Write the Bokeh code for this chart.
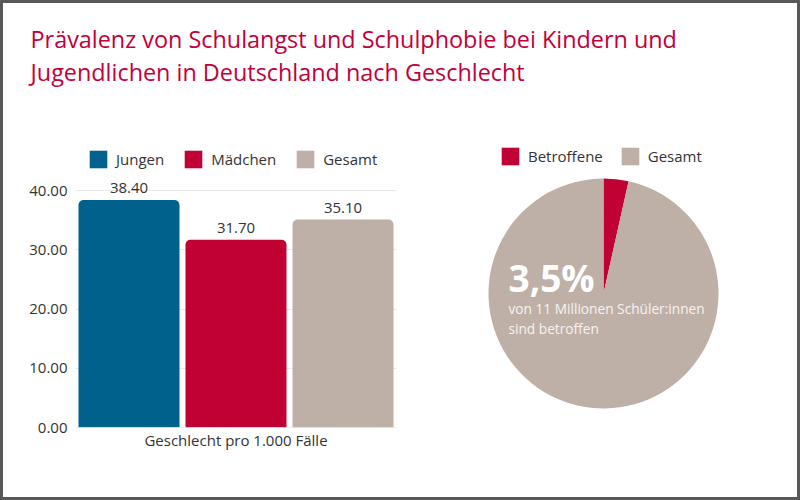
import math
from bokeh.plotting import figure
from bokeh.models import (ColumnDataSource, Range1d, FactorRange, Label, LabelSet,
                          FixedTicker, NumeralTickFormatter, Title, Span)
from bokeh.layouts import column, row
from bokeh.embed import file_html
from bokeh.resources import INLINE
from bokeh.core.properties import value

# ---------------- data ----------------
title_lines = ["Prävalenz von Schulangst und Schulphobie bei Kindern und",
               "Jugendlichen in Deutschland nach Geschlecht"]
categories = ["Jungen", "Mädchen", "Gesamt"]
values = [38.40, 31.70, 35.10]
bar_colors = ["#00628C", "#C10034", "#BEB0A7"]
y_ticks = [0, 10, 20, 30, 40]
x_axis_label = "Geschlecht pro 1.000 Fälle"

pie_labels = ["Betroffene", "Gesamt"]
pie_values = [3.5, 96.5]
pie_colors = ["#C10034", "#BEB0A7"]
pie_headline = "3,5%"
pie_text = ["von 11 Millionen Schüler:innen", "sind betroffen"]

FONT = "Open Sans"
TITLE_COLOR = "#C3003A"
TEXT_COLOR = "#333333"


def style_legend(lg, loc, spacing, standoff):
    lg.orientation = "horizontal"
    lg.location = loc
    lg.padding = 0
    lg.margin = 0
    lg.spacing = spacing
    lg.border_line_color = None
    lg.background_fill_alpha = 0
    lg.glyph_width = 22
    lg.glyph_height = 22
    lg.label_height = 22
    lg.label_standoff = standoff
    lg.label_text_font = FONT
    lg.label_text_font_size = "15px"
    lg.label_text_color = TEXT_COLOR


# ---------------- title ----------------
tf = figure(width=794, height=107, x_range=Range1d(0, 1), y_range=Range1d(0, 1),
            x_axis_type=None, y_axis_type=None, toolbar_location=None,
            output_backend="svg", min_border=0)
tf.frame_align = False
tf.outline_line_color = None
tf.grid.visible = False
for t, ys in zip(title_lines, [72, 39]):
    tf.add_layout(Label(x=27, y=ys, x_units="screen", y_units="screen", text=t,
                        text_font=FONT, text_font_size="23.4px",
                        text_color=TITLE_COLOR, text_baseline="middle"))

# ---------------- bar chart ----------------
src = ColumnDataSource(dict(cat=categories, val=values, color=bar_colors,
                            lbl=[f"{v:.2f}" for v in values]))
PX_PER_UNIT = (427 - 190) / 40.0
bf = figure(width=437, height=387, x_range=FactorRange(*categories, range_padding=0),
            y_range=Range1d(0, (427 - 140) / PX_PER_UNIT), x_axis_type=None,
            toolbar_location=None, output_backend="svg",
            min_border_left=72, min_border_right=44, min_border_top=30,
            min_border_bottom=70)
bf.frame_align = False
bf.outline_line_color = None
bf.xgrid.visible = False
bf.ygrid.ticker = FixedTicker(ticks=y_ticks)
bf.ygrid.grid_line_color = "#e8e8e8"
bf.yaxis.ticker = FixedTicker(ticks=y_ticks)
bf.yaxis.formatter = NumeralTickFormatter(format="0.00")
bf.yaxis.axis_line_color = None
bf.yaxis.major_tick_line_color = None
bf.yaxis.minor_tick_line_color = None
bf.yaxis.major_tick_out = 0
bf.yaxis.major_label_standoff = 8
bf.yaxis.major_label_text_font = FONT
bf.yaxis.major_label_text_font_size = "15px"
bf.yaxis.major_label_text_color = TEXT_COLOR

bf.add_layout(Title(text=x_axis_label, align="center", text_font=FONT,
                    text_font_size="15px", text_font_style="normal",
                    text_color=TEXT_COLOR, standoff=0, offset=0), "below")
bf.add_layout(Span(location=0, dimension="width", line_color="#dddddd", line_width=1))

bf.vbar(x="cat", top="val", width=101 / 107, source=src, fill_color="color",
        line_color=None, legend_field="cat", border_radius=(5, 5, 0, 0))
bf.add_layout(LabelSet(x="cat", y="val", text="lbl", source=src, y_offset=12,
                       text_align="center", text_baseline="middle",
                       text_font=value(FONT), text_font_size=value("15px"),
                       text_color=TEXT_COLOR))
style_legend(bf.legend[0], (12, 257), 18, 7)

# ---------------- pie chart ----------------
total = sum(pie_values)
starts, ends = [], []
a = math.pi / 2
for v in pie_values:
    starts.append(a)
    a -= v / total * 2 * math.pi
    ends.append(a)
psrc = ColumnDataSource(dict(label=pie_labels, start=starts, end=ends, color=pie_colors))

R = 115.0
pf = figure(width=357, height=387, x_range=Range1d(-163 / R, 194 / R),
            y_range=Range1d(-204 / R, 183 / R), x_axis_type=None, y_axis_type=None,
            toolbar_location=None, output_backend="svg", min_border=0)
pf.frame_align = False
pf.outline_line_color = None
pf.grid.visible = False
pf.wedge(x=0, y=0, radius=1, start_angle="start", end_angle="end", direction="clock",
         fill_color="color", line_color=None, legend_field="label", source=psrc)
style_legend(pf.legend[0], (59, 330), 16, 7)

pf.add_layout(Label(x=68, y=220, x_units="screen", y_units="screen", text=pie_headline,
                    text_font=FONT, text_font_size="37px", text_font_style="bold",
                    text_color="white", text_baseline="middle"))
for t, ys in zip(pie_text, [189, 169]):
    pf.add_layout(Label(x=68, y=ys, x_units="screen", y_units="screen", text=t,
                        text_font=FONT, text_font_size="13.7px",
                        text_color="#F7F3F1", text_baseline="middle"))

layout = column(tf, row(bf, pf), styles={"border": "3px solid #585858"})

open("out.html", "w").write(file_html(layout, INLINE))
